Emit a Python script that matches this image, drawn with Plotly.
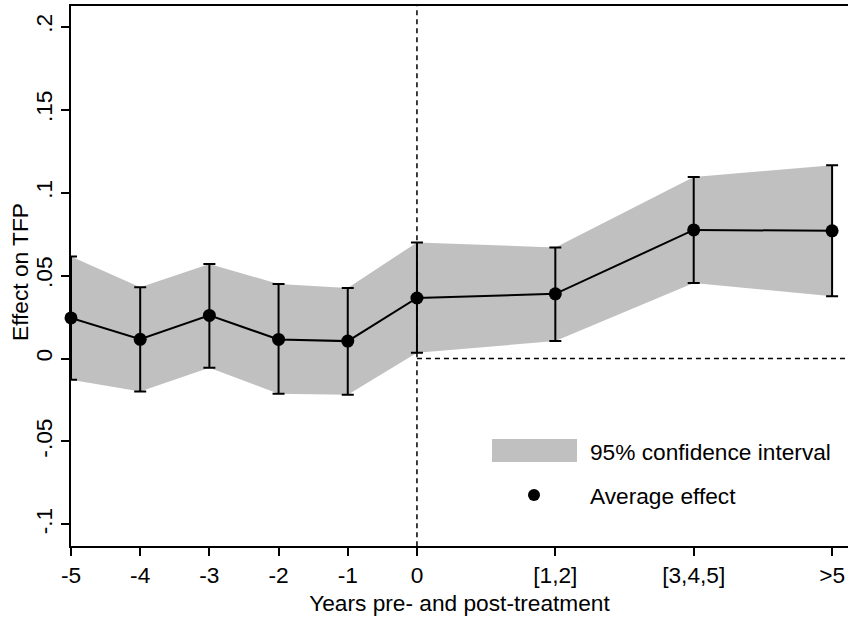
import plotly.graph_objects as go

# Data
categories = ["-5", "-4", "-3", "-2", "-1", "0", "[1,2]", "[3,4,5]", ">5"]
x_pos = [-5, -4, -3, -2, -1, 0, 2, 4, 6]
effect = [0.0245, 0.0116, 0.0260, 0.0115, 0.0105, 0.0365, 0.0390, 0.0775, 0.0770]
ci_upper = [0.0615, 0.0430, 0.0570, 0.0450, 0.0425, 0.0700, 0.0670, 0.1095, 0.1165]
ci_lower = [-0.0128, -0.0198, -0.0055, -0.0212, -0.0218, 0.0035, 0.0105, 0.0455, 0.0375]
y_ticks = [0.2, 0.15, 0.1, 0.05, 0, -0.05, -0.1]
y_ticktext = [".2", ".15", ".1", ".05", "0", "-.05", "-.1"]

FONT = "Liberation Sans, Arial, sans-serif"
FS = 22.7
BAND = "#c0c0c0"

fig = go.Figure()

# Confidence band
fig.add_trace(go.Scatter(
    x=x_pos + x_pos[::-1],
    y=ci_upper + ci_lower[::-1],
    fill="toself", fillcolor=BAND, line=dict(width=0, color=BAND),
    mode="lines", hoverinfo="skip", showlegend=False, cliponaxis=False,
))

# Reference lines
fig.add_trace(go.Scatter(
    x=[0, 0], y=[-0.2, 0.3], mode="lines",
    line=dict(color="black", width=1.5, dash="5px,4px"),
    showlegend=False, hoverinfo="skip",
))
fig.add_trace(go.Scatter(
    x=[0, 10], y=[0, 0], mode="lines",
    line=dict(color="black", width=1.5, dash="5px,4px"),
    showlegend=False, hoverinfo="skip",
))

# Point estimates with error bars
err_plus = [u - e for u, e in zip(ci_upper, effect)]
err_minus = [e - l for e, l in zip(effect, ci_lower)]
fig.add_trace(go.Scatter(
    x=x_pos, y=effect, mode="lines+markers",
    line=dict(color="black", width=2),
    marker=dict(color="black", size=13),
    error_y=dict(type="data", symmetric=False, array=err_plus, arrayminus=err_minus,
                 color="black", thickness=2, width=6),
    showlegend=False, cliponaxis=False,
))

# Legend (manual)
fig.add_shape(type="rect", xref="paper", yref="paper",
              x0=(492 - 71) / 777, x1=(577 - 71) / 777,
              y0=(546 - 462) / 540, y1=(546 - 439) / 540,
              fillcolor=BAND, line=dict(width=0))
fig.add_annotation(xref="paper", yref="paper", x=(588 - 71) / 777, y=(546 - 452) / 540,
                   text="95% confidence interval", showarrow=False, xanchor="left",
                   yanchor="middle", font=dict(family=FONT, size=FS, color="black"))
fig.add_shape(type="circle", xref="paper", yref="paper",
              x0=(528 - 71) / 777, x1=(540 - 71) / 777,
              y0=(546 - 501) / 540, y1=(546 - 489) / 540,
              fillcolor="black", line=dict(width=0))
fig.add_annotation(xref="paper", yref="paper", x=(588 - 71) / 777, y=(546 - 496) / 540,
                   text="Average effect", showarrow=False, xanchor="left",
                   yanchor="middle", font=dict(family=FONT, size=FS, color="black"))

# Y axis title
fig.add_annotation(xref="paper", yref="paper", x=(20 - 71) / 777, y=(546 - 272) / 540,
                   text="Effect on TFP", showarrow=False, textangle=-90,
                   xanchor="center", yanchor="middle",
                   font=dict(family=FONT, size=FS, color="black"))

fig.update_layout(
    width=848, height=621,
    margin=dict(l=71, r=0, t=6, b=75),
    paper_bgcolor="white", plot_bgcolor="white",
    font=dict(family=FONT, size=FS, color="black"),
    xaxis=dict(
        range=[-5, 6.23], tickvals=x_pos, ticktext=categories,
        showgrid=False, zeroline=False, showline=True, linecolor="black", linewidth=1.5,
        mirror=True, ticks="outside", ticklen=8, tickwidth=1.5, tickcolor="black",
        title=dict(text="Years pre- and post-treatment", font=dict(size=FS), standoff=8),
        tickfont=dict(size=FS),
    ),
    yaxis=dict(
        range=[-0.113, 0.2125], tickvals=y_ticks, ticktext=y_ticktext, tickangle=-90,
        showgrid=False, zeroline=False, showline=True, linecolor="black", linewidth=1.5,
        ticks="outside", ticklen=8, tickwidth=1.5, tickcolor="black",
        tickfont=dict(size=FS),
    ),
)

fig.write_html("out.html")
